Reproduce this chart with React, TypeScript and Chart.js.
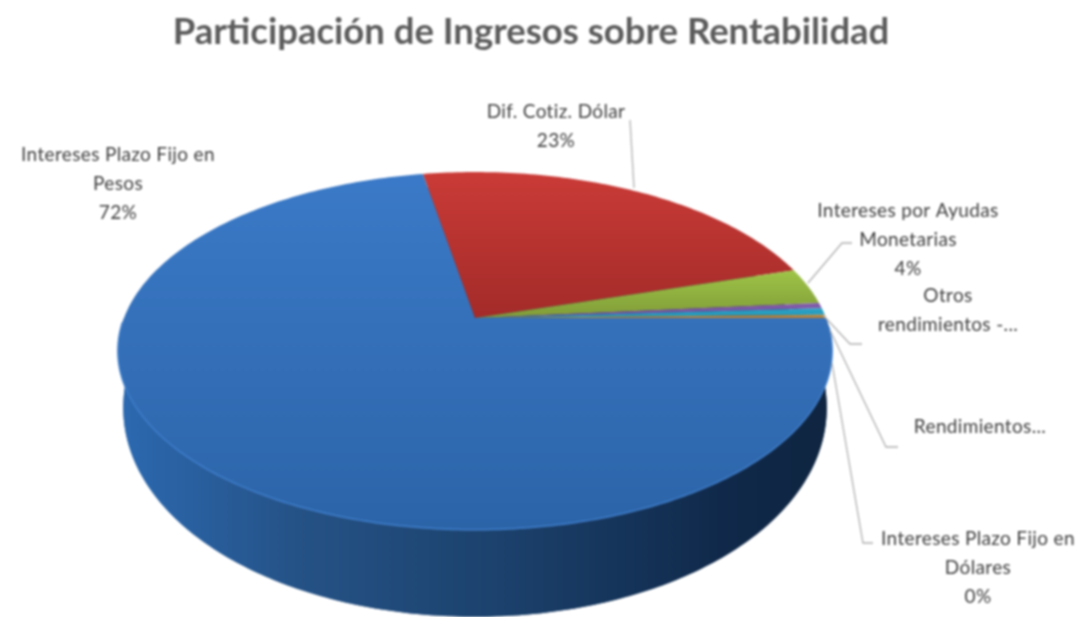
import React, { useEffect, useRef } from "react";
import { Chart, registerables } from "chart.js";

Chart.register(...registerables);

const titleText = "Participación de Ingresos sobre Rentabilidad";
const categories = [
  "Intereses Plazo Fijo en Pesos",
  "Dif. Cotiz. Dólar",
  "Intereses por Ayudas Monetarias",
  "Otros rendimientos -...",
  "Rendimientos...",
  "Intereses Plazo Fijo en Dólares",
];
const shares = [72.2, 23.1, 3.3, 0.5, 0.6, 0.3];
const lightColors = ["#3b7ac8", "#ca3b37", "#a0c648", "#8560ad", "#2eaacb", "#cf9245"];
const darkColors = ["#2c64a8", "#a32b29", "#809c38", "#7450a0", "#2498bb", "#b88238"];
const gradientTops = [172, 172, 268, 300, 300, 300];
const gradientBottoms = [530, 318, 318, 318, 318, 318];

const labelLines: string[][] = [
  ["Intereses Plazo Fijo en", "Pesos", "72%"],
  ["Dif. Cotiz. Dólar", "23%"],
  ["Intereses por Ayudas", "Monetarias", "4%"],
  ["Otros", "rendimientos -..."],
  ["Rendimientos..."],
  ["Intereses Plazo Fijo en", "Dólares", "0%"],
];
const labelAnchors = [
  [118, 155], [556, 112], [908, 211], [948, 296], [980, 427], [978, 539],
];
const leaderPaths = [
  [] as number[][],
  [[630, 120], [634, 188]],
  [[808, 283], [842, 243], [852, 243]],
  [[823, 315], [850, 344], [862, 344]],
  [[830, 330], [886, 447], [898, 447]],
  [[832, 363], [863, 543], [873, 543]],
];

// projection of the tilted disc
const CX = 475, APEX_Y = 318, BX = 351, AY = 114.3, K = -0.184;
const project = (a: number) => {
  const x = Math.cos(a), y = Math.sin(a), w = 1 + K * y;
  return [CX + (BX * x) / w, (AY * y + APEX_Y) / w, y];
};
const projectBase = (a: number) => {
  const [X, Y, y] = project(a);
  return [CX + (X - CX) * 0.985, Y + 50 + 37 * y];
};

const pie3d = {
  id: "pie3d",
  beforeDatasetsDraw(chart: any) {
    const ctx: CanvasRenderingContext2D = chart.ctx;
    const arcs = chart.getDatasetMeta(0).data;
    ctx.save();
    // side wall
    const wall = ctx.createLinearGradient(120, 0, 830, 0);
    wall.addColorStop(0, "#2c69b0");
    wall.addColorStop(0.25, "#255286");
    wall.addColorStop(0.5, "#1d4470");
    wall.addColorStop(0.85, "#10294a");
    wall.addColorStop(1, "#0f2540");
    ctx.fillStyle = wall;
    ctx.beginPath();
    const N = 240;
    for (let i = 0; i <= N; i++) {
      const [x, y] = project((Math.PI * i) / N);
      i === 0 ? ctx.moveTo(x, y) : ctx.lineTo(x, y);
    }
    for (let i = N; i >= 0; i--) {
      const [x, y] = projectBase((Math.PI * i) / N);
      ctx.lineTo(x, y);
    }
    ctx.closePath();
    ctx.fill();
    ctx.beginPath();
    for (let i = 0; i <= N; i++) {
      const [x, y] = projectBase((Math.PI * 2 * i) / N);
      i === 0 ? ctx.moveTo(x, y) : ctx.lineTo(x, y);
    }
    ctx.closePath();
    ctx.fill();
    // top faces, from the library's arc angles
    arcs.forEach((arc: any, idx: number) => {
      const { startAngle, endAngle } = arc.getProps(["startAngle", "endAngle"], true);
      const g = ctx.createLinearGradient(0, gradientTops[idx], 0, gradientBottoms[idx]);
      g.addColorStop(0, lightColors[idx]);
      g.addColorStop(1, darkColors[idx]);
      ctx.fillStyle = g;
      ctx.beginPath();
      ctx.moveTo(CX, APEX_Y);
      const steps = Math.max(2, Math.ceil((endAngle - startAngle) * 60));
      for (let i = 0; i <= steps; i++) {
        const [x, y] = project(startAngle + ((endAngle - startAngle) * i) / steps);
        ctx.lineTo(x, y);
      }
      ctx.closePath();
      ctx.fill();
    });
    // front rim highlight
    ctx.strokeStyle = "#3f7ecb";
    ctx.lineWidth = 1.5;
    ctx.beginPath();
    for (let i = 4; i <= N - 2; i++) {
      const [x, y] = project((Math.PI * i) / N);
      i === 4 ? ctx.moveTo(x, y) : ctx.lineTo(x, y);
    }
    ctx.stroke();
    // leader lines
    ctx.strokeStyle = "#b0b0b0";
    ctx.lineWidth = 1.3;
    leaderPaths.forEach((p) => {
      if (!p.length) return;
      ctx.beginPath();
      p.forEach(([x, y], i) => (i === 0 ? ctx.moveTo(x, y) : ctx.lineTo(x, y)));
      ctx.stroke();
    });
    // data labels
    ctx.fillStyle = "#404040";
    ctx.font = "19px Lato";
    ctx.textAlign = "center";
    ctx.textBaseline = "middle";
    (ctx as any).letterSpacing = "0.35px";
    labelLines.forEach((lines, i) => {
      lines.forEach((t, j) => ctx.fillText(t, labelAnchors[i][0], labelAnchors[i][1] + j * 28.7));
    });
    ctx.restore();
    return false;
  },
};

export default function App() {
  const ref = useRef<HTMLCanvasElement>(null);
  useEffect(() => {
    document.body.style.margin = "0";
    document.body.style.background = "#ffffff";
    const chart = new Chart(ref.current!, {
      type: "pie",
      data: {
        labels: categories,
        datasets: [{ data: shares, backgroundColor: lightColors, borderWidth: 0 }],
      },
      options: {
        responsive: false,
        animation: false,
        rotation: 90,
        layout: { padding: { right: 20 } },
        plugins: {
          legend: { display: false },
          tooltip: { enabled: false },
          title: {
            display: true,
            text: titleText,
            color: "#5c5c5c",
            font: { family: "Lato", size: 36.5, weight: "bold" },
            padding: { top: 10, bottom: 10 },
          },
        },
      },
      plugins: [pie3d],
    } as any);
    return () => chart.destroy();
  }, []);
  return (
    <canvas
      ref={ref}
      width={1082}
      height={617}
      style={{ display: "block", width: 1082, height: 617, filter: "blur(1px)" }}
    />
  );
}
